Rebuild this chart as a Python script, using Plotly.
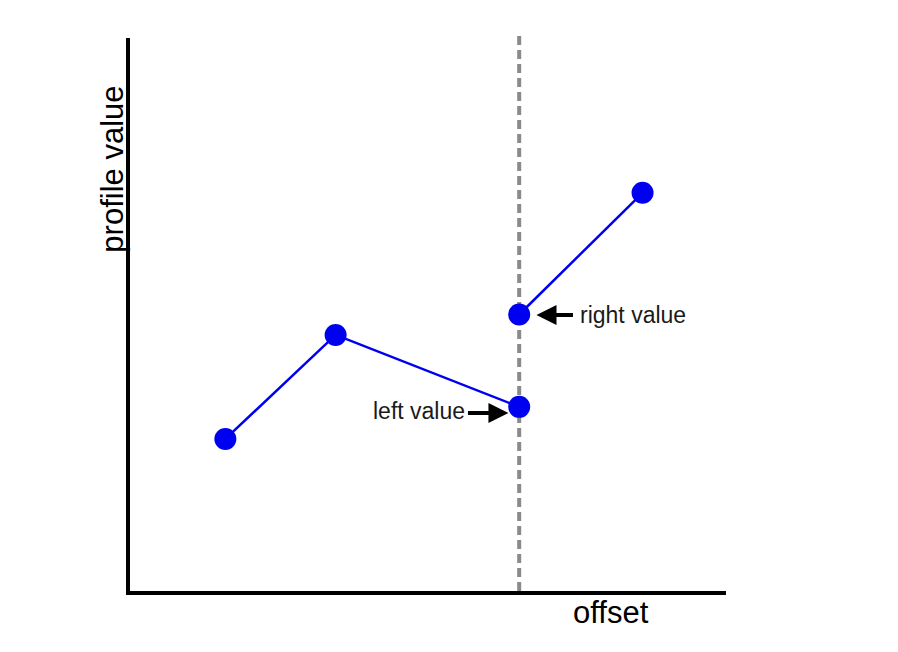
import plotly.graph_objects as go

# data (arbitrary units)
offsets_left = [1.6, 3.45, 6.53]
values_left = [2.75, 4.63, 3.33]
offsets_right = [6.53, 8.6]
values_right = [5.0, 7.2]
split_offset = 6.53

FONT = "Liberation Sans, Arial, sans-serif"
BLUE = "#0000f0"

fig = go.Figure()
fig.add_trace(go.Scatter(x=offsets_left, y=values_left, mode="lines+markers",
                         line=dict(color=BLUE, width=2.5),
                         marker=dict(color=BLUE, size=22), hoverinfo="skip"))
fig.add_trace(go.Scatter(x=offsets_right, y=values_right, mode="lines+markers",
                         line=dict(color=BLUE, width=2.5),
                         marker=dict(color=BLUE, size=22), hoverinfo="skip"))

fig.add_shape(type="line", xref="x", yref="paper", x0=split_offset, x1=split_offset,
              y0=0, y1=1.011, layer="below",
              line=dict(color="#8a8a8a", width=4, dash="9px,5px"))

# annotations
fig.add_annotation(x=5.66, y=3.25, xref="x", yref="y", text="left value",
                   showarrow=False, xanchor="right", yanchor="middle",
                   font=dict(family=FONT, size=23, color="#1a1a1a"))
fig.add_annotation(x=6.35, y=3.22, xref="x", yref="y", text="", showarrow=True,
                   ax=-42, ay=0, arrowhead=2, arrowsize=1.0, arrowwidth=4,
                   arrowcolor="black")
fig.add_annotation(x=6.82, y=4.99, xref="x", yref="y", text="", showarrow=True,
                   ax=38, ay=0, arrowhead=2, arrowsize=1.0, arrowwidth=4,
                   arrowcolor="black")
fig.add_annotation(x=7.52, y=4.99, xref="x", yref="y", text="right value",
                   showarrow=False, xanchor="left", yanchor="middle",
                   font=dict(family=FONT, size=23, color="#1a1a1a"))

# axis titles
fig.add_annotation(x=0.807, y=-0.038, xref="paper", yref="paper", text="offset",
                   showarrow=False, xanchor="center", yanchor="middle",
                   font=dict(family=FONT, size=31, color="black"))
fig.add_annotation(x=-0.0285, y=0.762, xref="paper", yref="paper", text="profile value",
                   showarrow=False, xanchor="center", yanchor="middle", textangle=-90,
                   font=dict(family=FONT, size=31, color="black"))

fig.update_layout(
    width=898, height=652,
    margin=dict(l=122, r=180, t=30, b=69),
    paper_bgcolor="white", plot_bgcolor="white",
    showlegend=False,
    xaxis=dict(range=[0, 10], showgrid=False, zeroline=False, showticklabels=False,
               ticks="", showline=True, linecolor="black", linewidth=4),
    yaxis=dict(range=[0, 10], showgrid=False, zeroline=False, showticklabels=False,
               ticks="", showline=True, linecolor="black", linewidth=4),
)

fig.write_html("out.html")
